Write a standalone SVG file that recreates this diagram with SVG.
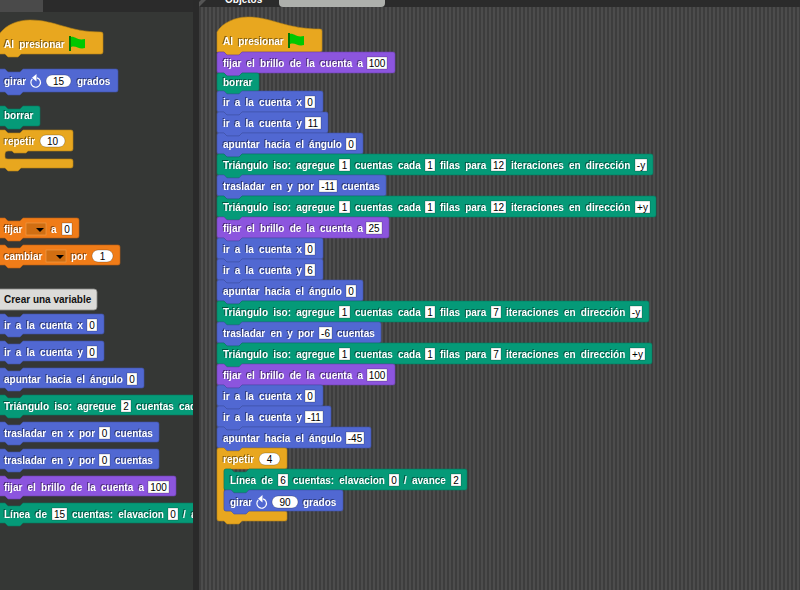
<svg xmlns="http://www.w3.org/2000/svg" width="800" height="590" viewBox="0 0 800 590">
<style>
text{font-family:"Liberation Sans",Arial,sans-serif;font-size:10px}
.t{fill:#fff;font-weight:bold;word-spacing:2.4px;filter:drop-shadow(-.6px -.6px 0 rgba(0,0,0,.45))}
.v{fill:#000;text-anchor:middle}
.i{fill:#fff;stroke:rgba(0,0,0,.35);stroke-width:.6}
.c{fill:#e8a71f;stroke:#b98414;stroke-width:.6}
.p{fill:#8c55de;stroke:#6c3fb0;stroke-width:.6}
.m{fill:#5168d2;stroke:#3f52a8;stroke-width:.6}
.g{fill:#059a78;stroke:#047a60;stroke-width:.6}
.o{fill:#f07c18;stroke:#c06010;stroke-width:.6}
.d{fill:#d06e12;stroke:#f0a050;stroke-width:.6}
</style>
<defs>
<pattern id="st" width="4" height="4" patternUnits="userSpaceOnUse" x="199"><rect width="4" height="4" fill="#3d3d3d"/><rect x="2" width="2" height="4" fill="#4c4c4c"/></pattern>
<clipPath id="pal"><rect x="0" y="12" width="193" height="578"/></clipPath>
<g id="flag"><path d="M0 0h2v15h-2z" fill="#007a00"/><path d="M2 1c4-1 6 4 14 2v9c-6 2-9-3-14-1z" fill="#00c800"/></g>
<g id="turn"><path d="M7 3.800a4.800 4.800 0 1 1-4.700 1.200" fill="none" stroke="#fff" stroke-width="1.200"/><path d="M6.500 0v7.500l-4.500-3.800z" fill="#fff"/></g>
<path id="ddarrow" d="M0 0h8l-4 4z" fill="#000"/>
</defs>

<rect width="800" height="590" fill="#2b2b2b"/>
<rect x="0" y="0" width="43" height="12" fill="#4a4a4a"/>
<rect x="0" y="12" width="193" height="578" fill="#353735"/>
<rect x="199" y="7" width="601" height="583" fill="url(#st)"/>
<rect x="279" y="-6" width="106" height="13" rx="4" fill="#aeb0ac"/>
<path d="M199 7l9-9h-5l-5 5z" fill="#555"/>
<text x="225" y="3" style="font-weight:bold" fill="#fff">Objetos</text>

<g id="palette" clip-path="url(#pal)">
<g id="p-hat"><path class="c" d="M-2 36C4 26 16 20 30 20C56 20 68 32 101 32q2 0 2 2V52q0 2-2 2H21l-3 3H8L5 54H0q-2 0-2-2z"/><text class="t" x="4" y="48">Al presionar</text><use href="#flag" x="69" y="36"/></g>
<g id="p-girar"><path class="m" d="M-2 71q0-2 2-2h5l3 3h12l3-3h93q2 0 2 2v19q0 2-2 2h-93l-3 3h-12l-3-3h-5q-2 0-2-2z"/><text class="t" x="4" y="85">girar</text><use href="#turn" x="30" y="74"/><rect class="i" x="46" y="75" width="25" height="12" rx="6"/><text class="v" x="58.500" y="85">15</text><text class="t" x="77" y="85">grados</text></g>
<g id="p-borrar"><path class="g" d="M-2 108q0-2 2-2h5l3 3h12l3-3h15q2 0 2 2v16q0 2-2 2h-15l-3 3h-12l-3-3h-5q-2 0-2-2z"/><text class="t" x="4" y="119">borrar</text></g>
<g id="p-repetir"><path class="c" d="M-2 132q0-2 2-2h5l3 3h12l3-3h48q2 0 2 2v17q0 2-2 2H28l-2 2h-12l-2-2H8q-3 0-3 3v3q0 2 3 2H71q2 0 2 2v5q0 2-2 2H21l-3 3H8l-3-3H0q-2 0-2-2z"/><text class="t" x="4" y="145">repetir</text><rect class="i" x="40" y="135" width="25" height="12" rx="6"/><text class="v" x="52.500" y="145">10</text></g>
<g id="p-fijar"><path class="o" d="M-2 220q0-2 2-2h5l3 3h12l3-3h54q2 0 2 2v16q0 2-2 2h-54l-3 3h-12l-3-3h-5q-2 0-2-2z"/><text class="t" x="4" y="233">fijar</text><rect class="d" x="26" y="223" width="20" height="12"/><use href="#ddarrow" x="36" y="228"/><text class="t" x="51" y="233">a</text><rect class="i" x="62" y="223" width="10" height="12"/><text class="v" x="67" y="233">0</text></g>
<g id="p-cambiar"><path class="o" d="M-2 247q0-2 2-2h5l3 3h12l3-3h95q2 0 2 2v16q0 2-2 2h-95l-3 3h-12l-3-3h-5q-2 0-2-2z"/><text class="t" x="4" y="260">cambiar</text><rect class="d" x="46" y="250" width="20" height="12"/><use href="#ddarrow" x="56" y="255"/><text class="t" x="71" y="260">por</text><rect class="i" x="92" y="250" width="21" height="12" rx="6"/><text class="v" x="102.500" y="260">1</text></g>
<g id="p-crear"><rect x="-3" y="289" width="100" height="21" rx="3" fill="#dbdbd8" stroke="#8a8a88" stroke-width=".8"/><text x="4" y="303" fill="#111" style="font-weight:bold">Crear una variable</text></g>
<g id="p-irx"><path class="m" d="M-2 316q0-2 2-2h5l3 3h12l3-3h79q2 0 2 2v16q0 2-2 2h-79l-3 3h-12l-3-3h-5q-2 0-2-2z"/><text class="t" x="4" y="329">ir a la cuenta x</text><rect class="i" x="87" y="319" width="10" height="12"/><text class="v" x="92" y="329">0</text></g>
<g id="p-iry"><path class="m" d="M-2 343q0-2 2-2h5l3 3h12l3-3h79q2 0 2 2v16q0 2-2 2h-79l-3 3h-12l-3-3h-5q-2 0-2-2z"/><text class="t" x="4" y="356">ir a la cuenta y</text><rect class="i" x="87" y="346" width="10" height="12"/><text class="v" x="92" y="356">0</text></g>
<g id="p-apuntar"><path class="m" d="M-2 370q0-2 2-2h5l3 3h12l3-3h119q2 0 2 2v16q0 2-2 2h-119l-3 3h-12l-3-3h-5q-2 0-2-2z"/><text class="t" x="4" y="383">apuntar hacia el ángulo</text><rect class="i" x="127" y="373" width="10" height="12"/><text class="v" x="132" y="383">0</text></g>
<g id="p-tri"><path class="g" d="M-2 397q0-2 2-2h5l3 3h12l3-3h200v20h-200l-3 3h-12l-3-3h-5q-2 0-2-2z"/><text class="t" x="4" y="410">Triángulo iso: agregue</text><rect class="i" x="121" y="400" width="10" height="12"/><text class="v" x="126" y="410">2</text><text class="t" x="136" y="410">cuentas cada</text></g>
<g id="p-trasx"><path class="m" d="M-2 424q0-2 2-2h5l3 3h12l3-3h134q2 0 2 2v16q0 2-2 2h-134l-3 3h-12l-3-3h-5q-2 0-2-2z"/><text class="t" x="4" y="437">trasladar en x por</text><rect class="i" x="99" y="427" width="11" height="12"/><text class="v" x="104.500" y="437">0</text><text class="t" x="115" y="437">cuentas</text></g>
<g id="p-trasy"><path class="m" d="M-2 451q0-2 2-2h5l3 3h12l3-3h134q2 0 2 2v16q0 2-2 2h-134l-3 3h-12l-3-3h-5q-2 0-2-2z"/><text class="t" x="4" y="464">trasladar en y por</text><rect class="i" x="99" y="454" width="11" height="12"/><text class="v" x="104.500" y="464">0</text><text class="t" x="115" y="464">cuentas</text></g>
<g id="p-brillo"><path class="p" d="M-2 478q0-2 2-2h5l3 3h12l3-3h151q2 0 2 2v16q0 2-2 2h-151l-3 3h-12l-3-3h-5q-2 0-2-2z"/><text class="t" x="4" y="491">fijar el brillo de la cuenta a</text><rect class="i" x="148" y="481" width="21" height="12"/><text class="v" x="158.500" y="491">100</text></g>
<g id="p-linea"><path class="g" d="M-2 505q0-2 2-2h5l3 3h12l3-3h200v20h-200l-3 3h-12l-3-3h-5q-2 0-2-2z"/><text class="t" x="4" y="518">Línea de</text><rect class="i" x="52" y="508" width="15" height="12"/><text class="v" x="59.500" y="518">15</text><text class="t" x="72" y="518">cuentas: elavacion</text><rect class="i" x="168" y="508" width="10" height="12"/><text class="v" x="173" y="518">0</text><text class="t" x="183" y="518">/</text><text class="t" x="191" y="518">avance</text></g>
</g>
<rect x="193" y="0" width="6" height="590" fill="#2a2a2a"/>

<g id="s-hat"><path class="c" d="M217 32C222 23 235 17 248 17C272 17 285 29 320 29q2 0 2 2V50q0 2-2 2H242l-3 3h-12l-3-3h-7z"/><text class="t" x="223" y="45">Al presionar</text><use href="#flag" x="288" y="33"/></g>
<g id="s-brillo1"><path class="p" d="M217 54q0-2 2-2h5l3 3h12l3-3h151q2 0 2 2v17q0 2-2 2h-151l-3 3h-12l-3-3h-5q-2 0-2-2z"/><text class="t" x="223" y="67">fijar el brillo de la cuenta a</text><rect class="i" x="367" y="57" width="20" height="12"/><text class="v" x="377" y="67">100</text></g>
<g id="s-borrar"><path class="g" d="M217 75q0-2 2-2h5l3 3h12l3-3h15q2 0 2 2v14q0 2-2 2h-15l-3 3h-12l-3-3h-5q-2 0-2-2z"/><text class="t" x="223" y="86">borrar</text></g>
<g id="s-irx1"><path class="m" d="M217 93q0-2 2-2h5l3 3h12l3-3h79q2 0 2 2v17q0 2-2 2h-79l-3 3h-12l-3-3h-5q-2 0-2-2z"/><text class="t" x="223" y="106">ir a la cuenta x</text><rect class="i" x="305" y="96" width="10" height="12"/><text class="v" x="310" y="106">0</text></g>
<g id="s-iry1"><path class="m" d="M217 114q0-2 2-2h5l3 3h12l3-3h84q2 0 2 2v17q0 2-2 2h-84l-3 3h-12l-3-3h-5q-2 0-2-2z"/><text class="t" x="223" y="127">ir a la cuenta y</text><rect class="i" x="305" y="117" width="16" height="12"/><text class="v" x="313" y="127">11</text></g>
<g id="s-apu1"><path class="m" d="M217 135q0-2 2-2h5l3 3h12l3-3h119q2 0 2 2v17q0 2-2 2h-119l-3 3h-12l-3-3h-5q-2 0-2-2z"/><text class="t" x="223" y="148">apuntar hacia el ángulo</text><rect class="i" x="346" y="138" width="10" height="12"/><text class="v" x="351" y="148">0</text></g>
<g id="s-tri1"><path class="g" d="M217 156q0-2 2-2h5l3 3h12l3-3h409q2 0 2 2v17q0 2-2 2h-409l-3 3h-12l-3-3h-5q-2 0-2-2z"/><text class="t" x="223" y="169">Triángulo iso: agregue</text><rect class="i" x="339" y="159" width="11" height="12"/><text class="v" x="344.500" y="169">1</text><text class="t" x="355" y="169">cuentas cada</text><rect class="i" x="425" y="159" width="10" height="12"/><text class="v" x="430" y="169">1</text><text class="t" x="440" y="169">filas para</text><rect class="i" x="491" y="159" width="15" height="12"/><text class="v" x="498.500" y="169">12</text><text class="t" x="511" y="169">iteraciones en dirección</text><rect class="i" x="635" y="159" width="12" height="12"/><text class="v" x="641" y="169">-y</text></g>
<g id="s-tras1"><path class="m" d="M217 177q0-2 2-2h5l3 3h12l3-3h142q2 0 2 2v17q0 2-2 2h-142l-3 3h-12l-3-3h-5q-2 0-2-2z"/><text class="t" x="223" y="190">trasladar en y por</text><rect class="i" x="319" y="180" width="18" height="12"/><text class="v" x="328" y="190">-11</text><text class="t" x="342" y="190">cuentas</text></g>
<g id="s-tri2"><path class="g" d="M217 198q0-2 2-2h5l3 3h12l3-3h412q2 0 2 2v17q0 2-2 2h-412l-3 3h-12l-3-3h-5q-2 0-2-2z"/><text class="t" x="223" y="211">Triángulo iso: agregue</text><rect class="i" x="339" y="201" width="11" height="12"/><text class="v" x="344.500" y="211">1</text><text class="t" x="355" y="211">cuentas cada</text><rect class="i" x="425" y="201" width="10" height="12"/><text class="v" x="430" y="211">1</text><text class="t" x="440" y="211">filas para</text><rect class="i" x="491" y="201" width="15" height="12"/><text class="v" x="498.500" y="211">12</text><text class="t" x="511" y="211">iteraciones en dirección</text><rect class="i" x="635" y="201" width="15" height="12"/><text class="v" x="642.500" y="211">+y</text></g>
<g id="s-brillo2"><path class="p" d="M217 219q0-2 2-2h5l3 3h12l3-3h145q2 0 2 2v17q0 2-2 2h-145l-3 3h-12l-3-3h-5q-2 0-2-2z"/><text class="t" x="223" y="232">fijar el brillo de la cuenta a</text><rect class="i" x="366" y="222" width="16" height="12"/><text class="v" x="374" y="232">25</text></g>
<g id="s-irx2"><path class="m" d="M217 240q0-2 2-2h5l3 3h12l3-3h79q2 0 2 2v17q0 2-2 2h-79l-3 3h-12l-3-3h-5q-2 0-2-2z"/><text class="t" x="223" y="253">ir a la cuenta x</text><rect class="i" x="305" y="243" width="10" height="12"/><text class="v" x="310" y="253">0</text></g>
<g id="s-iry2"><path class="m" d="M217 261q0-2 2-2h5l3 3h12l3-3h79q2 0 2 2v17q0 2-2 2h-79l-3 3h-12l-3-3h-5q-2 0-2-2z"/><text class="t" x="223" y="274">ir a la cuenta y</text><rect class="i" x="305" y="264" width="10" height="12"/><text class="v" x="310" y="274">6</text></g>
<g id="s-apu2"><path class="m" d="M217 282q0-2 2-2h5l3 3h12l3-3h119q2 0 2 2v17q0 2-2 2h-119l-3 3h-12l-3-3h-5q-2 0-2-2z"/><text class="t" x="223" y="295">apuntar hacia el ángulo</text><rect class="i" x="346" y="285" width="10" height="12"/><text class="v" x="351" y="295">0</text></g>
<g id="s-tri3"><path class="g" d="M217 303q0-2 2-2h5l3 3h12l3-3h405q2 0 2 2v17q0 2-2 2h-405l-3 3h-12l-3-3h-5q-2 0-2-2z"/><text class="t" x="223" y="316">Triángulo iso: agregue</text><rect class="i" x="339" y="306" width="11" height="12"/><text class="v" x="344.500" y="316">1</text><text class="t" x="355" y="316">cuentas cada</text><rect class="i" x="425" y="306" width="10" height="12"/><text class="v" x="430" y="316">1</text><text class="t" x="440" y="316">filas para</text><rect class="i" x="491" y="306" width="10" height="12"/><text class="v" x="496" y="316">7</text><text class="t" x="506" y="316">iteraciones en dirección</text><rect class="i" x="630" y="306" width="12" height="12"/><text class="v" x="636" y="316">-y</text></g>
<g id="s-tras2"><path class="m" d="M217 324q0-2 2-2h5l3 3h12l3-3h137q2 0 2 2v17q0 2-2 2h-137l-3 3h-12l-3-3h-5q-2 0-2-2z"/><text class="t" x="223" y="337">trasladar en y por</text><rect class="i" x="319" y="327" width="13" height="12"/><text class="v" x="325.500" y="337">-6</text><text class="t" x="337" y="337">cuentas</text></g>
<g id="s-tri4"><path class="g" d="M217 345q0-2 2-2h5l3 3h12l3-3h408q2 0 2 2v17q0 2-2 2h-408l-3 3h-12l-3-3h-5q-2 0-2-2z"/><text class="t" x="223" y="358">Triángulo iso: agregue</text><rect class="i" x="339" y="348" width="11" height="12"/><text class="v" x="344.500" y="358">1</text><text class="t" x="355" y="358">cuentas cada</text><rect class="i" x="425" y="348" width="10" height="12"/><text class="v" x="430" y="358">1</text><text class="t" x="440" y="358">filas para</text><rect class="i" x="491" y="348" width="10" height="12"/><text class="v" x="496" y="358">7</text><text class="t" x="506" y="358">iteraciones en dirección</text><rect class="i" x="630" y="348" width="15" height="12"/><text class="v" x="637.500" y="358">+y</text></g>
<g id="s-brillo3"><path class="p" d="M217 366q0-2 2-2h5l3 3h12l3-3h151q2 0 2 2v17q0 2-2 2h-151l-3 3h-12l-3-3h-5q-2 0-2-2z"/><text class="t" x="223" y="379">fijar el brillo de la cuenta a</text><rect class="i" x="367" y="369" width="20" height="12"/><text class="v" x="377" y="379">100</text></g>
<g id="s-irx3"><path class="m" d="M217 387q0-2 2-2h5l3 3h12l3-3h79q2 0 2 2v17q0 2-2 2h-79l-3 3h-12l-3-3h-5q-2 0-2-2z"/><text class="t" x="223" y="400">ir a la cuenta x</text><rect class="i" x="305" y="390" width="10" height="12"/><text class="v" x="310" y="400">0</text></g>
<g id="s-iry3"><path class="m" d="M217 408q0-2 2-2h5l3 3h12l3-3h87q2 0 2 2v17q0 2-2 2h-87l-3 3h-12l-3-3h-5q-2 0-2-2z"/><text class="t" x="223" y="421">ir a la cuenta y</text><rect class="i" x="305" y="411" width="18" height="12"/><text class="v" x="314" y="421">-11</text></g>
<g id="s-apu3"><path class="m" d="M217 429q0-2 2-2h5l3 3h12l3-3h127q2 0 2 2v17q0 2-2 2h-127l-3 3h-12l-3-3h-5q-2 0-2-2z"/><text class="t" x="223" y="442">apuntar hacia el ángulo</text><rect class="i" x="346" y="432" width="18" height="12"/><text class="v" x="355" y="442">-45</text></g>
<g id="s-repetir"><path class="c" d="M217 450q0-2 2-2h5l3 3h12l3-3h43q2 0 2 2v17q0 2-2 2H226q-2 0-2 2v38q0 2 2 2H285q2 0 2 2v6q0 2-2 2H242l-3 3h-12l-3-3h-5q-2 0-2-2z"/><text class="t" x="223" y="463">repetir</text><rect class="i" x="259" y="453" width="21" height="12" rx="6"/><text class="v" x="269.500" y="463">4</text></g>
<g id="s-linea"><path class="g" d="M224 471q0-2 2-2h5l3 3h12l3-3h216q2 0 2 2v17q0 2-2 2h-216l-3 3h-12l-3-3h-5q-2 0-2-2z"/><text class="t" x="230" y="484">Línea de</text><rect class="i" x="278" y="474" width="10" height="12"/><text class="v" x="283" y="484">6</text><text class="t" x="293" y="484">cuentas: elavacion</text><rect class="i" x="389" y="474" width="10" height="12"/><text class="v" x="394" y="484">0</text><text class="t" x="404" y="484">/</text><text class="t" x="412" y="484">avance</text><rect class="i" x="451" y="474" width="10" height="12"/><text class="v" x="456" y="484">2</text></g>
<g id="s-girar"><path class="m" d="M224 492q0-2 2-2h5l3 3h12l3-3h92q2 0 2 2v17q0 2-2 2h-92l-3 3h-12l-3-3h-5q-2 0-2-2z"/><text class="t" x="230" y="506">girar</text><use href="#turn" x="256" y="495"/><rect class="i" x="272" y="496" width="26" height="12" rx="6"/><text class="v" x="285" y="506">90</text><text class="t" x="303" y="506">grados</text></g>
</svg>
